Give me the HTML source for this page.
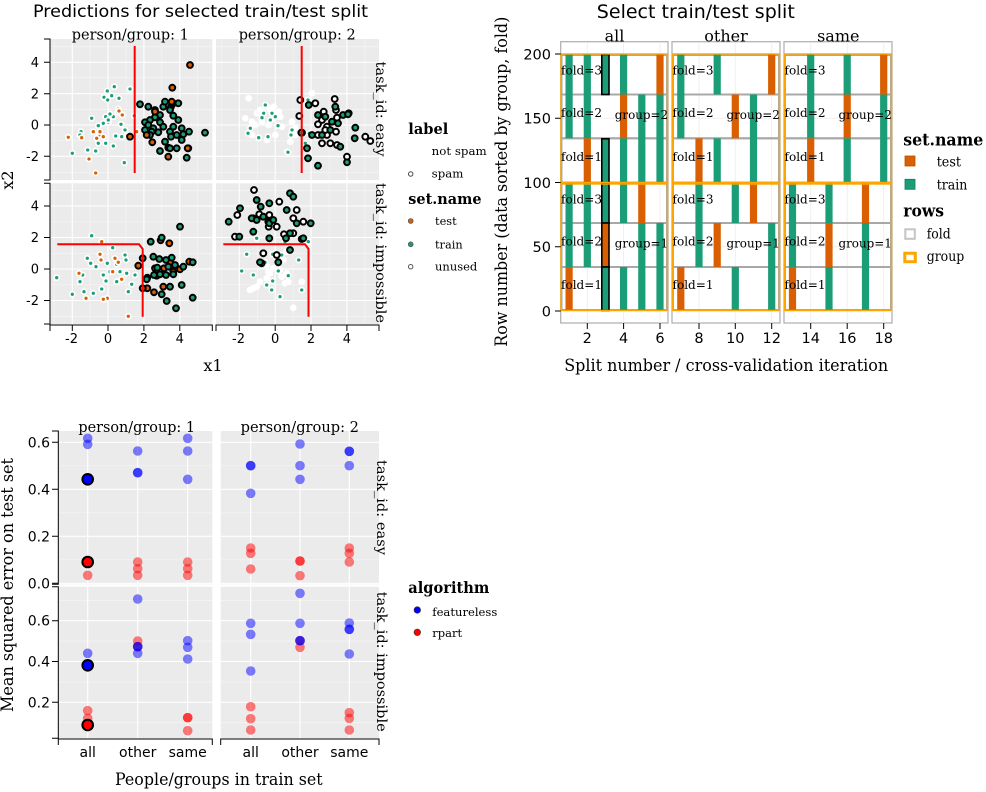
<!DOCTYPE html>
<html><head><meta charset="utf-8"><style>
body{margin:0;background:#fff}
svg{display:block}
.sans{font-family:"DejaVu Sans","Liberation Sans",sans-serif}
.serif{font-family:"DejaVu Serif","Liberation Serif",serif}
.gn{fill:#1b9e77;stroke:#fff;stroke-width:1.7}
.on{fill:#d95f02;stroke:#fff;stroke-width:1.7}
.wn{fill:#fff;stroke:#fff;stroke-width:1.7}
.gs{fill:#1b9e77;stroke:#000;stroke-width:2}
.os{fill:#d95f02;stroke:#000;stroke-width:2}
.ws{fill:#fff;stroke:#000;stroke-width:2}
.T{fill:#1b9e77}
.E{fill:#d95f02}
.H{stroke:#000;stroke-width:1.6}
.mj{stroke:#fff;stroke-width:1.1}
.mn{stroke:#f6f6f6;stroke-width:0.6}
.ax{stroke:#000;stroke-width:1;fill:none}
.bl{fill:rgba(0,0,255,0.5)}
.rd{fill:rgba(255,0,0,0.5)}
.tg{stroke:#efefef;stroke-width:1}
.fr{fill:none;stroke:#a8a8a8;stroke-width:2}
.gr{fill:none;stroke:#ffa500;stroke-width:1.4}
</style></head><body>
<svg width="986" height="792" viewBox="0 0 986 792" xmlns="http://www.w3.org/2000/svg">
<rect width="986" height="792" fill="#fff"/>

<!-- ================= SCATTER (top-left) ================= -->
<text class="sans" x="200.5" y="17" font-size="17" text-anchor="middle" textLength="335" lengthAdjust="spacingAndGlyphs">Predictions for selected train/test split</text>

<!-- panels -->
<rect x="50" y="39" width="162.3" height="141" fill="#ebebeb"/>
<rect x="216" y="39" width="163" height="141" fill="#ebebeb"/>
<rect x="50" y="183.3" width="162.3" height="140.7" fill="#ebebeb"/>
<rect x="216" y="183.3" width="163" height="140.7" fill="#ebebeb"/>
<g class="mn">
<path d="M54.2,39V180M90,39V180M126,39V180M161.8,39V180M197.7,39V180M221.4,39V180M257.3,39V180M293.1,39V180M329,39V180M364.8,39V180"/>
<path d="M54.2,183.3V324M90,183.3V324M126,183.3V324M161.8,183.3V324M197.7,183.3V324M221.4,183.3V324M257.3,183.3V324M293.1,183.3V324M329,183.3V324M364.8,183.3V324"/>
<path d="M50,46.3H212.3M50,77.7H212.3M50,109.3H212.3M50,140.8H212.3M50,172.3H212.3M216,46.3H379M216,77.7H379M216,109.3H379M216,140.8H379M216,172.3H379"/>
<path d="M50,190.3H212.3M50,221.8H212.3M50,253.3H212.3M50,284.8H212.3M50,316.3H212.3M216,190.3H379M216,221.8H379M216,253.3H379M216,284.8H379M216,316.3H379"/>
</g>
<g class="mj">
<path d="M72.3,39V180M108,39V180M143.9,39V180M179.8,39V180M239.3,39V180M275.2,39V180M311,39V180M346.9,39V180"/>
<path d="M72.3,183.3V324M108,183.3V324M143.9,183.3V324M179.8,183.3V324M239.3,183.3V324M275.2,183.3V324M311,183.3V324M346.9,183.3V324"/>
<path d="M50,62.3H212.3M50,93.7H212.3M50,125H212.3M50,156.3H212.3M216,62.3H379M216,93.7H379M216,125H379M216,156.3H379"/>
<path d="M50,206H212.3M50,237.5H212.3M50,269H212.3M50,300.5H212.3M216,206H379M216,237.5H379M216,269H379M216,300.5H379"/>
</g>

<!-- TL points: easy, group 1 -->
<g>
<circle class="gn" r="2.5" cx="114.3" cy="86.7"/><circle class="gn" r="2.5" cx="107.3" cy="91"/><circle class="gn" r="2.5" cx="111.7" cy="95.7"/><circle class="gn" r="2.5" cx="104" cy="97.3"/><circle class="gn" r="2.5" cx="119" cy="98.3"/><circle class="gn" r="2.5" cx="130" cy="89"/><circle class="gn" r="2.5" cx="107.7" cy="100"/><circle class="gn" r="2.5" cx="91.7" cy="118.3"/><circle class="gn" r="2.5" cx="105.7" cy="116.7"/><circle class="gn" r="2.5" cx="113.3" cy="116.7"/><circle class="gn" r="2.5" cx="110" cy="114"/><circle class="gn" r="2.5" cx="117.7" cy="112.3"/><circle class="gn" r="2.5" cx="108.3" cy="122.3"/><circle class="gn" r="2.5" cx="98.3" cy="125.7"/><circle class="gn" r="2.5" cx="103.3" cy="123.3"/><circle class="gn" r="2.5" cx="121" cy="124.3"/><circle class="gn" r="2.5" cx="81" cy="131.7"/><circle class="gn" r="2.5" cx="99.3" cy="135"/><circle class="gn" r="2.5" cx="115.7" cy="136"/><circle class="gn" r="2.5" cx="121.7" cy="136.7"/><circle class="gn" r="2.5" cx="125" cy="130"/><circle class="gn" r="2.5" cx="134.3" cy="115.7"/><circle class="gn" r="2.5" cx="98.3" cy="143.3"/><circle class="gn" r="2.5" cx="105.7" cy="143.3"/><circle class="gn" r="2.5" cx="113.3" cy="146"/><circle class="gn" r="2.5" cx="87.7" cy="150"/><circle class="gn" r="2.5" cx="95.7" cy="151"/><circle class="gn" r="2.5" cx="72.3" cy="153.3"/><circle class="gn" r="2.5" cx="124.3" cy="162.7"/><circle class="gn" r="2.5" cx="80" cy="135"/><circle class="gn" r="2.5" cx="108.3" cy="120"/><circle class="gn" r="2.5" cx="118.3" cy="109"/>
<circle class="on" r="2.5" cx="68.3" cy="137.3"/><circle class="on" r="2.5" cx="81.7" cy="137.7"/><circle class="on" r="2.5" cx="89" cy="159"/><circle class="on" r="2.5" cx="95.7" cy="173"/><circle class="on" r="2.5" cx="119" cy="111"/><circle class="on" r="2.5" cx="122.3" cy="115"/><circle class="on" r="2.5" cx="93.3" cy="131.7"/><circle class="on" r="2.5" cx="100" cy="135"/><circle class="on" r="2.5" cx="103.3" cy="136.7"/><circle class="on" r="2.5" cx="96.7" cy="138.3"/><circle class="on" r="2.5" cx="127.7" cy="135.7"/><circle class="on" r="2.5" cx="136.7" cy="131.7"/><circle class="on" r="2.5" cx="145" cy="124.3"/><circle class="on" r="2.5" cx="100" cy="131.7"/>
<circle class="gs" r="2.9" cx="140" cy="104.3"/><circle class="gs" r="2.9" cx="148.3" cy="106.7"/><circle class="gs" r="2.9" cx="155" cy="110"/><circle class="gs" r="2.9" cx="163.3" cy="106.7"/><circle class="gs" r="2.9" cx="165" cy="101.7"/><circle class="gs" r="2.9" cx="173.3" cy="103.3"/><circle class="gs" r="2.9" cx="178.3" cy="103.3"/><circle class="gs" r="2.9" cx="171" cy="106.7"/><circle class="gs" r="2.9" cx="170" cy="110"/><circle class="gs" r="2.9" cx="173.3" cy="115.7"/><circle class="gs" r="2.9" cx="160" cy="115"/><circle class="gs" r="2.9" cx="155" cy="117.3"/><circle class="gs" r="2.9" cx="150" cy="120"/><circle class="gs" r="2.9" cx="145" cy="122.3"/><circle class="gs" r="2.9" cx="148.3" cy="125"/><circle class="gs" r="2.9" cx="153.3" cy="128.3"/><circle class="gs" r="2.9" cx="160" cy="122.3"/><circle class="gs" r="2.9" cx="163.3" cy="126.7"/><circle class="gs" r="2.9" cx="173.3" cy="126.7"/><circle class="gs" r="2.9" cx="181.7" cy="128.3"/><circle class="gs" r="2.9" cx="183.3" cy="134.3"/><circle class="gs" r="2.9" cx="189" cy="131.7"/><circle class="gs" r="2.9" cx="205" cy="132.7"/><circle class="gs" r="2.9" cx="151.7" cy="131.7"/><circle class="gs" r="2.9" cx="158.3" cy="132.3"/><circle class="gs" r="2.9" cx="170" cy="131.7"/><circle class="gs" r="2.9" cx="171" cy="136.7"/><circle class="gs" r="2.9" cx="181.7" cy="140"/><circle class="gs" r="2.9" cx="176.7" cy="148.3"/><circle class="gs" r="2.9" cx="168.3" cy="147.7"/><circle class="gs" r="2.9" cx="160" cy="151"/><circle class="gs" r="2.9" cx="186.7" cy="157.7"/><circle class="gs" r="2.9" cx="165" cy="141.7"/><circle class="gs" r="2.9" cx="145" cy="130"/><circle class="gs" r="2.9" cx="150" cy="135"/><circle class="gs" r="2.9" cx="176.7" cy="135"/><circle class="gs" r="2.9" cx="178.3" cy="120"/><circle class="gs" r="2.9" cx="188.3" cy="148.3"/><circle class="gs" r="2.9" cx="170" cy="148.3"/>
<circle class="os" r="2.9" cx="190" cy="65"/><circle class="os" r="2.9" cx="172.3" cy="87.7"/><circle class="os" r="2.9" cx="172.3" cy="103.3"/><circle class="os" r="2.9" cx="155" cy="111.7"/><circle class="os" r="2.9" cx="130" cy="136.7"/><circle class="os" r="2.9" cx="146.7" cy="135"/><circle class="os" r="2.9" cx="152.3" cy="142.3"/><circle class="os" r="2.9" cx="187.7" cy="148.3"/><circle class="os" r="2.9" cx="168.3" cy="156.7"/><circle class="os" r="2.9" cx="171.7" cy="101.7"/>
</g>

<!-- TR points: easy, group 2 -->
<g>
<circle class="wn" r="2.5" cx="248.7" cy="98.3"/><circle class="wn" r="2.5" cx="257" cy="113.3"/><circle class="wn" r="2.5" cx="245.3" cy="118.3"/><circle class="wn" r="2.5" cx="267" cy="106.7"/><circle class="wn" r="2.5" cx="273.7" cy="106.7"/><circle class="wn" r="2.5" cx="278.7" cy="111.7"/><circle class="wn" r="2.5" cx="270.3" cy="110"/><circle class="wn" r="2.5" cx="262" cy="121.7"/><circle class="wn" r="2.5" cx="268.7" cy="125"/><circle class="wn" r="2.5" cx="282" cy="126.7"/><circle class="wn" r="2.5" cx="252" cy="135"/><circle class="wn" r="2.5" cx="258.7" cy="138.3"/><circle class="wn" r="2.5" cx="267" cy="140"/><circle class="wn" r="2.5" cx="275.3" cy="135"/><circle class="wn" r="2.5" cx="287" cy="151.7"/><circle class="wn" r="2.5" cx="292" cy="121.7"/><circle class="wn" r="2.5" cx="295.3" cy="135"/><circle class="wn" r="2.5" cx="290.3" cy="141.7"/><circle class="wn" r="2.5" cx="312" cy="93.3"/><circle class="wn" r="2.5" cx="305.3" cy="105"/><circle class="wn" r="2.5" cx="255.3" cy="125"/><circle class="wn" r="2.5" cx="280.3" cy="116.7"/><circle class="wn" r="2.5" cx="273.7" cy="118.3"/><circle class="wn" r="2.5" cx="260.3" cy="110"/><circle class="wn" r="2.5" cx="295.3" cy="128.3"/><circle class="wn" r="2.5" cx="252" cy="121.7"/>
<circle class="gn" r="2.5" cx="265.3" cy="105"/><circle class="gn" r="2.5" cx="263.7" cy="113.3"/><circle class="gn" r="2.5" cx="262" cy="117.7"/><circle class="gn" r="2.5" cx="275.3" cy="116.7"/><circle class="gn" r="2.5" cx="270.3" cy="120"/><circle class="gn" r="2.5" cx="250.3" cy="128.3"/><circle class="gn" r="2.5" cx="248" cy="133.3"/><circle class="gn" r="2.5" cx="258.7" cy="137.7"/><circle class="gn" r="2.5" cx="268" cy="136.7"/><circle class="gn" r="2.5" cx="278" cy="125.7"/><circle class="gn" r="2.5" cx="292" cy="130"/><circle class="gn" r="2.5" cx="291" cy="135"/><circle class="gn" r="2.5" cx="288" cy="152.3"/><circle class="gn" r="2.5" cx="308" cy="100"/><circle class="gn" r="2.5" cx="309.3" cy="133.3"/><circle class="gn" r="2.5" cx="305.3" cy="143.3"/><circle class="gn" r="2.5" cx="272" cy="113.3"/>
<circle class="ws" r="2.9" cx="315.3" cy="103.3"/><circle class="ws" r="2.9" cx="323.7" cy="111.7"/><circle class="ws" r="2.9" cx="336" cy="110"/><circle class="ws" r="2.9" cx="337" cy="117.7"/><circle class="ws" r="2.9" cx="322" cy="120"/><circle class="ws" r="2.9" cx="318" cy="124.3"/><circle class="ws" r="2.9" cx="327" cy="126.7"/><circle class="ws" r="2.9" cx="336" cy="131.7"/><circle class="ws" r="2.9" cx="327" cy="135"/><circle class="ws" r="2.9" cx="318" cy="135"/><circle class="ws" r="2.9" cx="322" cy="143.3"/><circle class="ws" r="2.9" cx="330.3" cy="143.3"/><circle class="ws" r="2.9" cx="337" cy="145"/><circle class="ws" r="2.9" cx="348.7" cy="113.3"/><circle class="ws" r="2.9" cx="365.3" cy="136.7"/><circle class="ws" r="2.9" cx="370.3" cy="141"/><circle class="ws" r="2.9" cx="334.7" cy="99"/><circle class="ws" r="2.9" cx="300.3" cy="100"/><circle class="ws" r="2.9" cx="299.3" cy="116"/><circle class="ws" r="2.9" cx="302" cy="132.7"/><circle class="ws" r="2.9" cx="347" cy="156.7"/><circle class="ws" r="2.9" cx="325.3" cy="130"/>
<circle class="gs" r="2.9" cx="308.7" cy="105"/><circle class="gs" r="2.9" cx="318" cy="115"/><circle class="gs" r="2.9" cx="325.3" cy="116.7"/><circle class="gs" r="2.9" cx="332" cy="121.7"/><circle class="gs" r="2.9" cx="338" cy="123.3"/><circle class="gs" r="2.9" cx="343" cy="115"/><circle class="gs" r="2.9" cx="355.3" cy="127.7"/><circle class="gs" r="2.9" cx="354.7" cy="138.3"/><circle class="gs" r="2.9" cx="340.3" cy="146.7"/><circle class="gs" r="2.9" cx="330.3" cy="130"/><circle class="gs" r="2.9" cx="312" cy="135"/><circle class="gs" r="2.9" cx="307" cy="148.3"/><circle class="gs" r="2.9" cx="308" cy="158.3"/><circle class="gs" r="2.9" cx="318" cy="165.7"/><circle class="gs" r="2.9" cx="347" cy="162.3"/><circle class="gs" r="2.9" cx="335.3" cy="106.7"/><circle class="gs" r="2.9" cx="301.3" cy="132.7"/><circle class="gs" r="2.9" cx="322" cy="135"/><circle class="gs" r="2.9" cx="348" cy="114.3"/>
</g>

<!-- BL points: impossible, group 1 -->
<g>
<circle class="gn" r="2.5" cx="91.7" cy="235.7"/><circle class="gn" r="2.5" cx="56.7" cy="277.7"/><circle class="gn" r="2.5" cx="72.3" cy="294.3"/><circle class="gn" r="2.5" cx="80" cy="281.7"/><circle class="gn" r="2.5" cx="84" cy="291.7"/><circle class="gn" r="2.5" cx="87.3" cy="258.3"/><circle class="gn" r="2.5" cx="96" cy="266.7"/><circle class="gn" r="2.5" cx="112.7" cy="247.7"/><circle class="gn" r="2.5" cx="116.7" cy="264.3"/><circle class="gn" r="2.5" cx="125" cy="255"/><circle class="gn" r="2.5" cx="126" cy="260"/><circle class="gn" r="2.5" cx="126.7" cy="273.3"/><circle class="gn" r="2.5" cx="128.3" cy="291.7"/><circle class="gn" r="2.5" cx="106" cy="281"/><circle class="gn" r="2.5" cx="101.7" cy="289"/><circle class="gn" r="2.5" cx="90.7" cy="263.3"/><circle class="gn" r="2.5" cx="107.3" cy="263.3"/><circle class="gn" r="2.5" cx="110" cy="271.7"/><circle class="gn" r="2.5" cx="131.7" cy="284.3"/><circle class="gn" r="2.5" cx="135" cy="275"/><circle class="gn" r="2.5" cx="120" cy="271.7"/><circle class="gn" r="2.5" cx="116.7" cy="281.7"/><circle class="gn" r="2.5" cx="82.7" cy="275"/><circle class="gn" r="2.5" cx="103.3" cy="275"/><circle class="gn" r="2.5" cx="93.3" cy="293.3"/>
<circle class="on" r="2.5" cx="101.7" cy="241.7"/><circle class="on" r="2.5" cx="79" cy="273.3"/><circle class="on" r="2.5" cx="86" cy="298.3"/><circle class="on" r="2.5" cx="100" cy="254.3"/><circle class="on" r="2.5" cx="101" cy="260"/><circle class="on" r="2.5" cx="112.7" cy="271.7"/><circle class="on" r="2.5" cx="107.3" cy="298.3"/><circle class="on" r="2.5" cx="103.3" cy="299.3"/><circle class="on" r="2.5" cx="128.3" cy="316.3"/><circle class="on" r="2.5" cx="118.3" cy="262.3"/><circle class="on" r="2.5" cx="121.7" cy="279.3"/><circle class="on" r="2.5" cx="115" cy="258.3"/>
<circle class="os" r="2.9" cx="138.3" cy="265.7"/><circle class="os" r="2.9" cx="160.7" cy="240.3"/><circle class="os" r="2.9" cx="169.3" cy="243.3"/><circle class="os" r="2.9" cx="147.3" cy="288.3"/><circle class="os" r="2.9" cx="156.7" cy="275.7"/><circle class="os" r="2.9" cx="155" cy="268.3"/><circle class="os" r="2.9" cx="164" cy="268.3"/><circle class="os" r="2.9" cx="170" cy="262.3"/><circle class="os" r="2.9" cx="180" cy="269.3"/><circle class="os" r="2.9" cx="189.3" cy="261.7"/><circle class="os" r="2.9" cx="163.3" cy="286.7"/><circle class="os" r="2.9" cx="154" cy="292.3"/><circle class="os" r="2.9" cx="173.3" cy="271.7"/><circle class="os" r="2.9" cx="142.7" cy="288.3"/>
<circle class="gs" r="2.9" cx="150.7" cy="241.7"/><circle class="gs" r="2.9" cx="161.7" cy="237.7"/><circle class="gs" r="2.9" cx="180" cy="226.7"/><circle class="gs" r="2.9" cx="142.7" cy="258.3"/><circle class="gs" r="2.9" cx="153.3" cy="256.7"/><circle class="gs" r="2.9" cx="159.3" cy="259"/><circle class="gs" r="2.9" cx="166" cy="260"/><circle class="gs" r="2.9" cx="171.7" cy="257.7"/><circle class="gs" r="2.9" cx="157.3" cy="267.7"/><circle class="gs" r="2.9" cx="168.3" cy="266.7"/><circle class="gs" r="2.9" cx="175" cy="265"/><circle class="gs" r="2.9" cx="183.3" cy="266.7"/><circle class="gs" r="2.9" cx="192.7" cy="262.3"/><circle class="gs" r="2.9" cx="147.3" cy="277.7"/><circle class="gs" r="2.9" cx="154" cy="275"/><circle class="gs" r="2.9" cx="160" cy="274.3"/><circle class="gs" r="2.9" cx="166" cy="275"/><circle class="gs" r="2.9" cx="173.3" cy="274.3"/><circle class="gs" r="2.9" cx="181.7" cy="285"/><circle class="gs" r="2.9" cx="170" cy="286.7"/><circle class="gs" r="2.9" cx="161.7" cy="294.3"/><circle class="gs" r="2.9" cx="166.7" cy="301"/><circle class="gs" r="2.9" cx="176" cy="308.3"/><circle class="gs" r="2.9" cx="192.7" cy="297.7"/><circle class="gs" r="2.9" cx="146.7" cy="279.3"/>
</g>

<!-- BR points: impossible, group 2 -->
<g>
<circle class="wn" r="2.5" cx="266.7" cy="265"/><circle class="wn" r="2.5" cx="268.3" cy="271.7"/><circle class="wn" r="2.5" cx="273.3" cy="268.3"/><circle class="wn" r="2.5" cx="280" cy="270"/><circle class="wn" r="2.5" cx="286.7" cy="273.3"/><circle class="wn" r="2.5" cx="285" cy="283.3"/><circle class="wn" r="2.5" cx="250" cy="290"/><circle class="wn" r="2.5" cx="256.7" cy="286.7"/><circle class="wn" r="2.5" cx="260" cy="281.7"/><circle class="wn" r="2.5" cx="281.7" cy="276.7"/><circle class="wn" r="2.5" cx="293.3" cy="307.7"/><circle class="wn" r="2.5" cx="301.7" cy="281.7"/><circle class="wn" r="2.5" cx="276.7" cy="258.3"/><circle class="wn" r="2.5" cx="283.3" cy="260"/><circle class="wn" r="2.5" cx="286.7" cy="251.7"/><circle class="wn" r="2.5" cx="266.7" cy="278.3"/><circle class="wn" r="2.5" cx="253.3" cy="288.3"/><circle class="wn" r="2.5" cx="288.3" cy="281.7"/><circle class="wn" r="2.5" cx="270" cy="273.3"/>
<circle class="gn" r="2.5" cx="256.7" cy="238.3"/><circle class="gn" r="2.5" cx="246.7" cy="254.3"/><circle class="gn" r="2.5" cx="241.7" cy="271"/><circle class="gn" r="2.5" cx="272.7" cy="254.3"/><circle class="gn" r="2.5" cx="281.7" cy="255"/><circle class="gn" r="2.5" cx="290.7" cy="251"/><circle class="gn" r="2.5" cx="298.7" cy="260"/><circle class="gn" r="2.5" cx="285" cy="241.7"/><circle class="gn" r="2.5" cx="272.7" cy="281"/><circle class="gn" r="2.5" cx="288.3" cy="275.7"/><circle class="gn" r="2.5" cx="280" cy="296.7"/><circle class="gn" r="2.5" cx="271.7" cy="290"/><circle class="gn" r="2.5" cx="301.7" cy="290"/><circle class="gn" r="2.5" cx="308.3" cy="241.7"/><circle class="gn" r="2.5" cx="265" cy="262.3"/><circle class="gn" r="2.5" cx="266.7" cy="285"/><circle class="gn" r="2.5" cx="278.3" cy="271"/><circle class="gn" r="2.5" cx="253.3" cy="275"/>
<circle class="ws" r="2.9" cx="254" cy="190"/><circle class="ws" r="2.9" cx="237.3" cy="215"/><circle class="ws" r="2.9" cx="259.3" cy="214.3"/><circle class="ws" r="2.9" cx="279.3" cy="201.7"/><circle class="ws" r="2.9" cx="296.7" cy="210"/><circle class="ws" r="2.9" cx="269.3" cy="215"/><circle class="ws" r="2.9" cx="276.7" cy="226.7"/><circle class="ws" r="2.9" cx="268.7" cy="226.7"/><circle class="ws" r="2.9" cx="235" cy="236.7"/><circle class="ws" r="2.9" cx="284" cy="234.3"/><circle class="ws" r="2.9" cx="293.3" cy="233.3"/><circle class="ws" r="2.9" cx="303.3" cy="221.7"/><circle class="ws" r="2.9" cx="301.7" cy="239"/><circle class="ws" r="2.9" cx="293.3" cy="218.3"/><circle class="ws" r="2.9" cx="263.3" cy="253.3"/><circle class="ws" r="2.9" cx="261.7" cy="263.3"/><circle class="ws" r="2.9" cx="276.7" cy="255"/><circle class="ws" r="2.9" cx="253.3" cy="218.3"/><circle class="ws" r="2.9" cx="268.3" cy="221.7"/>
<circle class="gs" r="2.9" cx="228.7" cy="221.7"/><circle class="gs" r="2.9" cx="240" cy="208.3"/><circle class="gs" r="2.9" cx="256.7" cy="200"/><circle class="gs" r="2.9" cx="260.7" cy="206.7"/><circle class="gs" r="2.9" cx="269.3" cy="203.3"/><circle class="gs" r="2.9" cx="286.7" cy="210"/><circle class="gs" r="2.9" cx="290" cy="193.3"/><circle class="gs" r="2.9" cx="293.3" cy="196.7"/><circle class="gs" r="2.9" cx="251.7" cy="218.3"/><circle class="gs" r="2.9" cx="256.7" cy="220"/><circle class="gs" r="2.9" cx="263.3" cy="216.7"/><circle class="gs" r="2.9" cx="269.3" cy="223.3"/><circle class="gs" r="2.9" cx="273.3" cy="220"/><circle class="gs" r="2.9" cx="296.7" cy="223.3"/><circle class="gs" r="2.9" cx="310.7" cy="223.3"/><circle class="gs" r="2.9" cx="239.3" cy="236.7"/><circle class="gs" r="2.9" cx="269.3" cy="238.3"/><circle class="gs" r="2.9" cx="286" cy="238.3"/><circle class="gs" r="2.9" cx="290" cy="233.3"/><circle class="gs" r="2.9" cx="253.3" cy="231.7"/><circle class="gs" r="2.9" cx="290" cy="250"/><circle class="gs" r="2.9" cx="260" cy="262.3"/><circle class="gs" r="2.9" cx="278.3" cy="262.3"/><circle class="gs" r="2.9" cx="303.3" cy="238.3"/>
</g>

<!-- red decision lines -->
<g stroke="#ff0000" stroke-width="2" fill="none">
<path d="M134.7,46V173"/>
<path d="M301.7,46V173"/>
<path d="M57.3,244.3H139L142.7,249V316.7"/>
<path d="M223.3,244.3H305L308.5,249V316.7"/>
</g>

<!-- strip labels (drawn over panels) -->
<text class="serif" x="130.3" y="39.5" font-size="14.5" text-anchor="middle" textLength="117" lengthAdjust="spacingAndGlyphs">person/group: 1</text>
<text class="serif" x="297.2" y="39.5" font-size="14.5" text-anchor="middle" textLength="117" lengthAdjust="spacingAndGlyphs">person/group: 2</text>
<text class="serif" font-size="14" transform="translate(376,109) rotate(90)" text-anchor="middle" textLength="95" lengthAdjust="spacingAndGlyphs">task_id: easy</text>
<text class="serif" font-size="14" transform="translate(376,253) rotate(90)" text-anchor="middle" textLength="140" lengthAdjust="spacingAndGlyphs">task_id: impossible</text>

<!-- axes -->
<path class="ax" d="M44,39H50V180H44M44,183.3H50V324H44"/>
<path class="ax" d="M44,62.3H50M44,93.7H50M44,125H50M44,156.3H50M44,206H50M44,237.5H50M44,269H50M44,300.5H50"/>
<path class="ax" d="M50,331V325H212.3V331M216,331V325H379V331"/>
<path class="ax" d="M72.3,325V331M108,325V331M143.9,325V331M179.8,325V331M239.3,325V331M275.2,325V331M311,325V331M346.9,325V331"/>
<g class="sans" font-size="13" text-anchor="end">
<text x="39" y="67">4</text><text x="39" y="98.3">2</text><text x="39" y="129.6">0</text><text x="39" y="161">-2</text>
<text x="39" y="210.6">4</text><text x="39" y="242">2</text><text x="39" y="273.6">0</text><text x="39" y="305">-2</text>
</g>
<g class="sans" font-size="13" text-anchor="middle">
<text x="71.5" y="343">-2</text><text x="108" y="343">0</text><text x="143.9" y="343">2</text><text x="179.8" y="343">4</text>
<text x="238.5" y="343">-2</text><text x="275.2" y="343">0</text><text x="311" y="343">2</text><text x="346.9" y="343">4</text>
</g>
<text class="serif" x="213" y="371" font-size="16" text-anchor="middle">x1</text>
<text class="serif" font-size="16" transform="translate(13,180) rotate(-90)" text-anchor="middle">x2</text>

<!-- scatter legend -->
<text class="serif" x="408.3" y="134" font-size="15" font-weight="bold" textLength="40" lengthAdjust="spacingAndGlyphs">label</text>
<text class="serif" x="431.7" y="155" font-size="11.5" textLength="55" lengthAdjust="spacingAndGlyphs">not spam</text>
<circle cx="410.7" cy="174" r="2.2" fill="#fff" stroke="#444" stroke-width="1"/>
<text class="serif" x="431.7" y="177.5" font-size="11.5" textLength="31.7" lengthAdjust="spacingAndGlyphs">spam</text>
<text class="serif" x="408.3" y="204" font-size="15" font-weight="bold" textLength="73.3" lengthAdjust="spacingAndGlyphs">set.name</text>
<circle cx="410.7" cy="221" r="2.4" fill="#d95f02" stroke="#555" stroke-width="0.8"/>
<text class="serif" x="435" y="225" font-size="11.5" textLength="21.7" lengthAdjust="spacingAndGlyphs">test</text>
<circle cx="410.7" cy="244.3" r="2.4" fill="#1b9e77" stroke="#555" stroke-width="0.8"/>
<text class="serif" x="435" y="248.3" font-size="11.5" textLength="27.7" lengthAdjust="spacingAndGlyphs">train</text>
<circle cx="410.7" cy="266.7" r="2.2" fill="#fff" stroke="#555" stroke-width="1"/>
<text class="serif" x="435" y="270.7" font-size="11.5" textLength="42.3" lengthAdjust="spacingAndGlyphs">unused</text>

<!-- ================= TILE CHART (top-right) ================= -->
<text class="sans" x="695.8" y="18" font-size="19" text-anchor="middle" textLength="198" lengthAdjust="spacingAndGlyphs">Select train/test split</text>

<!-- panel backgrounds -->
<rect x="560.7" y="41.7" width="107.3" height="281.3" fill="#fff" stroke="#b3b3b3" stroke-width="1.3"/>
<rect x="672" y="41.7" width="108" height="281.3" fill="#fff" stroke="#b3b3b3" stroke-width="1.3"/>
<rect x="784" y="41.7" width="108" height="281.3" fill="#fff" stroke="#b3b3b3" stroke-width="1.3"/>
<text class="serif" x="614.5" y="41.5" font-size="16" text-anchor="middle">all</text>
<text class="serif" x="726" y="41.5" font-size="16" text-anchor="middle">other</text>
<text class="serif" x="838.3" y="41.5" font-size="16" text-anchor="middle">same</text>
<g class="tg">
<path d="M587.3,42V323M623.6,42V323M660,42V323M699,42V323M735.3,42V323M771.7,42V323M810.7,42V323M847.2,42V323M883.7,42V323"/>
<path d="M561,311H668M561,246.75H668M561,182.5H668M561,118.25H668M561,54H668M672,311H780M672,246.75H780M672,182.5H780M672,118.25H780M672,54H780M784,311H892M784,246.75H892M784,182.5H892M784,118.25H892M784,54H892"/>
</g>

<!-- fold rects -->
<g class="fr">
<rect x="561.5" y="55" width="105.5" height="39.5"/><rect x="561.5" y="94.5" width="105.5" height="43.8"/><rect x="561.5" y="138.3" width="105.5" height="44.2"/>
<rect x="561.5" y="183.5" width="105.5" height="39.5"/><rect x="561.5" y="223" width="105.5" height="44"/><rect x="561.5" y="267" width="105.5" height="43"/>
<rect x="673" y="55" width="106" height="39.5"/><rect x="673" y="94.5" width="106" height="43.8"/><rect x="673" y="138.3" width="106" height="44.2"/>
<rect x="673" y="183.5" width="106" height="39.5"/><rect x="673" y="223" width="106" height="44"/><rect x="673" y="267" width="106" height="43"/>
<rect x="785" y="55" width="106" height="39.5"/><rect x="785" y="94.5" width="106" height="43.8"/><rect x="785" y="138.3" width="106" height="44.2"/>
<rect x="785" y="183.5" width="106" height="39.5"/><rect x="785" y="223" width="106" height="44"/><rect x="785" y="267" width="106" height="43"/>
</g>

<!-- bars -->
<g>
<rect class="T" x="565.5" y="54" width="7.2" height="84.3"/><rect class="T" x="565.5" y="183" width="7.2" height="84"/><rect class="E" x="565.5" y="267" width="7.2" height="43.5"/>
<rect class="T" x="583.7" y="54" width="7.2" height="84.3"/><rect class="E" x="583.7" y="138.3" width="7.2" height="44.7"/><rect class="T" x="583.7" y="183" width="7.2" height="84"/>
<rect class="T" x="620" y="54" width="7.2" height="40.5"/><rect class="E" x="620" y="94.5" width="7.2" height="43.8"/><rect class="T" x="620" y="138.3" width="7.2" height="84.7"/><rect class="T" x="620" y="267" width="7.2" height="43.5"/>
<rect class="T" x="638.2" y="94.5" width="7.2" height="88.5"/><rect class="E" x="638.2" y="183" width="7.2" height="40"/><rect class="T" x="638.2" y="223" width="7.2" height="87.5"/>
<rect class="E" x="656.4" y="54" width="7.2" height="40.5"/><rect class="T" x="656.4" y="94.5" width="7.2" height="88.5"/><rect class="T" x="656.4" y="223" width="7.2" height="87.5"/>
<rect class="T" x="677.2" y="54" width="7.2" height="84.3"/><rect class="E" x="677.2" y="267" width="7.2" height="43.5"/>
<rect class="E" x="695.4" y="138.3" width="7.2" height="44.7"/><rect class="T" x="695.4" y="183" width="7.2" height="84"/>
<rect class="T" x="713.6" y="54" width="7.2" height="40.5"/><rect class="T" x="713.6" y="138.3" width="7.2" height="44.7"/><rect class="E" x="713.6" y="223" width="7.2" height="44"/>
<rect class="E" x="731.7" y="94.5" width="7.2" height="43.8"/><rect class="T" x="731.7" y="183" width="7.2" height="40"/><rect class="T" x="731.7" y="267" width="7.2" height="43.5"/>
<rect class="T" x="749.9" y="94.5" width="7.2" height="88.5"/><rect class="E" x="749.9" y="183" width="7.2" height="40"/>
<rect class="E" x="768.1" y="54" width="7.2" height="40.5"/><rect class="T" x="768.1" y="223" width="7.2" height="87.5"/>
<rect class="T" x="788.9" y="183" width="7.2" height="84"/><rect class="E" x="788.9" y="267" width="7.2" height="43.5"/>
<rect class="T" x="807.1" y="54" width="7.2" height="84.3"/><rect class="E" x="807.1" y="138.3" width="7.2" height="44.7"/>
<rect class="T" x="825.4" y="183" width="7.2" height="40"/><rect class="E" x="825.4" y="223" width="7.2" height="44"/><rect class="T" x="825.4" y="267" width="7.2" height="43.5"/>
<rect class="T" x="843.6" y="54" width="7.2" height="40.5"/><rect class="E" x="843.6" y="94.5" width="7.2" height="43.8"/><rect class="T" x="843.6" y="138.3" width="7.2" height="44.7"/>
<rect class="E" x="861.9" y="183" width="7.2" height="40"/><rect class="T" x="861.9" y="223" width="7.2" height="87.5"/>
<rect class="E" x="880.1" y="54" width="7.2" height="40.5"/><rect class="T" x="880.1" y="94.5" width="7.2" height="88.5"/>
<rect class="T H" x="601.8" y="54.5" width="7.2" height="40"/><rect class="T H" x="601.8" y="138.8" width="7.2" height="44"/><rect class="T H" x="601.8" y="183.5" width="7.2" height="39.5"/><rect class="E H" x="601.8" y="223" width="7.2" height="44"/><rect class="T H" x="601.8" y="267" width="7.2" height="43.5"/>
</g>

<!-- group rects -->
<g class="gr">
<rect x="561" y="54" width="106.5" height="128.5"/><rect x="561" y="184" width="106.5" height="126.5"/>
<rect x="672.5" y="54" width="107" height="128.5"/><rect x="672.5" y="184" width="107" height="126.5"/>
<rect x="784.5" y="54" width="107" height="128.5"/><rect x="784.5" y="184" width="107" height="126.5"/>
</g>

<!-- fold / group labels -->
<g class="serif" font-size="12.5">
<text x="561" y="74.5" textLength="41" lengthAdjust="spacingAndGlyphs">fold=3</text>
<text x="561" y="117" textLength="41" lengthAdjust="spacingAndGlyphs">fold=2</text>
<text x="561" y="161" textLength="41" lengthAdjust="spacingAndGlyphs">fold=1</text>
<text x="561" y="203.5" textLength="41" lengthAdjust="spacingAndGlyphs">fold=3</text>
<text x="561" y="245.5" textLength="41" lengthAdjust="spacingAndGlyphs">fold=2</text>
<text x="561" y="289" textLength="41" lengthAdjust="spacingAndGlyphs">fold=1</text>
<text x="672.5" y="74.5" textLength="41" lengthAdjust="spacingAndGlyphs">fold=3</text>
<text x="672.5" y="117" textLength="41" lengthAdjust="spacingAndGlyphs">fold=2</text>
<text x="672.5" y="161" textLength="41" lengthAdjust="spacingAndGlyphs">fold=1</text>
<text x="672.5" y="203.5" textLength="41" lengthAdjust="spacingAndGlyphs">fold=3</text>
<text x="672.5" y="245.5" textLength="41" lengthAdjust="spacingAndGlyphs">fold=2</text>
<text x="672.5" y="289" textLength="41" lengthAdjust="spacingAndGlyphs">fold=1</text>
<text x="784.5" y="74.5" textLength="41" lengthAdjust="spacingAndGlyphs">fold=3</text>
<text x="784.5" y="117" textLength="41" lengthAdjust="spacingAndGlyphs">fold=2</text>
<text x="784.5" y="161" textLength="41" lengthAdjust="spacingAndGlyphs">fold=1</text>
<text x="784.5" y="203.5" textLength="41" lengthAdjust="spacingAndGlyphs">fold=3</text>
<text x="784.5" y="245.5" textLength="41" lengthAdjust="spacingAndGlyphs">fold=2</text>
<text x="784.5" y="289" textLength="41" lengthAdjust="spacingAndGlyphs">fold=1</text>
<text x="614.8" y="119" textLength="53.3" lengthAdjust="spacingAndGlyphs">group=2</text>
<text x="614.8" y="247.5" textLength="53.3" lengthAdjust="spacingAndGlyphs">group=1</text>
<text x="726.5" y="119" textLength="53.3" lengthAdjust="spacingAndGlyphs">group=2</text>
<text x="726.5" y="247.5" textLength="53.3" lengthAdjust="spacingAndGlyphs">group=1</text>
<text x="838.5" y="119" textLength="53.3" lengthAdjust="spacingAndGlyphs">group=2</text>
<text x="838.5" y="247.5" textLength="53.3" lengthAdjust="spacingAndGlyphs">group=1</text>
</g>

<!-- tile axes -->
<path class="ax" d="M555,54H560.7M555,118.25H560.7M555,182.5H560.7M555,246.75H560.7M555,311H560.7"/>
<path class="ax" d="M587.3,323V329M623.6,323V329M660,323V329M699,323V329M735.3,323V329M771.7,323V329M810.7,323V329M847.2,323V329M883.7,323V329"/>
<g class="sans" font-size="14.5" text-anchor="end">
<text x="551" y="59.5">200</text><text x="551" y="123.7">150</text><text x="551" y="188">100</text><text x="551" y="252.2">50</text><text x="551" y="316.5">0</text>
</g>
<g class="sans" font-size="14.5" text-anchor="middle">
<text x="587.3" y="343">2</text><text x="623.6" y="343">4</text><text x="660" y="343">6</text>
<text x="699" y="343">8</text><text x="735.3" y="343">10</text><text x="771.7" y="343">12</text>
<text x="810.7" y="343">14</text><text x="847.2" y="343">16</text><text x="883.7" y="343">18</text>
</g>
<text class="serif" font-size="16.5" x="726.2" y="371" text-anchor="middle" textLength="324" lengthAdjust="spacingAndGlyphs">Split number / cross-validation iteration</text>
<text class="serif" font-size="16.5" transform="translate(507,181.7) rotate(-90)" text-anchor="middle" textLength="330" lengthAdjust="spacingAndGlyphs">Row number (data sorted by group, fold)</text>

<!-- tile legend -->
<text class="serif" x="903.3" y="145.5" font-size="17" font-weight="bold" textLength="80" lengthAdjust="spacingAndGlyphs">set.name</text>
<rect x="905" y="156" width="10" height="10" fill="#d95f02" stroke="#b85000" stroke-width="0.8"/>
<text class="serif" x="936.7" y="166.5" font-size="14" textLength="24.3" lengthAdjust="spacingAndGlyphs">test</text>
<rect x="905" y="179.3" width="10" height="10" fill="#1b9e77" stroke="#137a5c" stroke-width="0.8"/>
<text class="serif" x="936.7" y="189.5" font-size="14" textLength="30.6" lengthAdjust="spacingAndGlyphs">train</text>
<text class="serif" x="903.3" y="216.5" font-size="17" font-weight="bold" textLength="40.7" lengthAdjust="spacingAndGlyphs">rows</text>
<rect x="905.3" y="229.3" width="9.5" height="9.5" fill="#fff" stroke="#c4c4c4" stroke-width="2"/>
<text class="serif" x="926.7" y="238.5" font-size="14" textLength="24" lengthAdjust="spacingAndGlyphs">fold</text>
<rect x="904.8" y="253.2" width="10.5" height="8.5" fill="#fff" stroke="#ffa500" stroke-width="3"/>
<text class="serif" x="926.7" y="261" font-size="14" textLength="37.6" lengthAdjust="spacingAndGlyphs">group</text>

<!-- ================= ERROR PLOT (bottom-left) ================= -->
<rect x="58.3" y="431" width="154" height="153.3" fill="#ebebeb"/>
<rect x="220.7" y="431" width="158.3" height="153.3" fill="#ebebeb"/>
<rect x="58.3" y="586.7" width="154" height="151.6" fill="#ebebeb"/>
<rect x="220.7" y="586.7" width="158.3" height="151.6" fill="#ebebeb"/>
<g class="mn">
<path d="M58.3,559.8H212.3M58.3,512.8H212.3M58.3,465.8H212.3M220.7,559.8H379M220.7,512.8H379M220.7,465.8H379"/>
<path d="M58.3,722.7H212.3M58.3,681.9H212.3M58.3,641.1H212.3M58.3,600.3H212.3M220.7,722.7H379M220.7,681.9H379M220.7,641.1H379M220.7,600.3H379"/>
</g>
<g class="mj">
<path d="M58.3,583.3H212.3M58.3,536.3H212.3M58.3,489.3H212.3M58.3,442.3H212.3M220.7,583.3H379M220.7,536.3H379M220.7,489.3H379M220.7,442.3H379"/>
<path d="M58.3,702.3H212.3M58.3,661.5H212.3M58.3,620.7H212.3M220.7,702.3H379M220.7,661.5H379M220.7,620.7H379"/>
<path d="M87.7,431V584.3M137.7,431V584.3M187.7,431V584.3M250.7,431V584.3M300,431V584.3M349.3,431V584.3"/>
<path d="M87.7,586.7V738.3M137.7,586.7V738.3M187.7,586.7V738.3M250.7,586.7V738.3M300,586.7V738.3M349.3,586.7V738.3"/>
</g>

<!-- error points -->
<g>
<circle class="bl" r="4.8" cx="87.7" cy="438.3"/><circle class="bl" r="4.8" cx="87.7" cy="444.3"/>
<circle class="rd" r="4.8" cx="87.7" cy="575.3"/><circle class="rd" r="4.8" cx="87.7" cy="562"/>
<circle class="bl" r="4.8" cx="137.7" cy="451"/><circle class="bl" r="4.8" cx="137.7" cy="472.7"/><circle class="bl" r="4.8" cx="137.7" cy="472.7"/>
<circle class="rd" r="4.8" cx="137.7" cy="562"/><circle class="rd" r="4.8" cx="137.7" cy="568.7"/><circle class="rd" r="4.8" cx="137.7" cy="575.3"/>
<circle class="bl" r="4.8" cx="187.7" cy="438.3"/><circle class="bl" r="4.8" cx="187.7" cy="451"/><circle class="bl" r="4.8" cx="187.7" cy="479.3"/>
<circle class="rd" r="4.8" cx="187.7" cy="562"/><circle class="rd" r="4.8" cx="187.7" cy="568.7"/><circle class="rd" r="4.8" cx="187.7" cy="575.3"/>
<circle class="bl" r="4.8" cx="250.7" cy="465.7"/><circle class="bl" r="4.8" cx="250.7" cy="465.7"/><circle class="bl" r="4.8" cx="250.7" cy="493.3"/>
<circle class="rd" r="4.8" cx="250.7" cy="548"/><circle class="rd" r="4.8" cx="250.7" cy="553.3"/><circle class="rd" r="4.8" cx="250.7" cy="569"/>
<circle class="bl" r="4.8" cx="300" cy="444"/><circle class="bl" r="4.8" cx="300" cy="465.7"/><circle class="bl" r="4.8" cx="300" cy="479.3"/>
<circle class="rd" r="4.8" cx="300" cy="561"/><circle class="rd" r="4.8" cx="300" cy="561"/><circle class="rd" r="4.8" cx="300" cy="575.7"/>
<circle class="bl" r="4.8" cx="349.3" cy="451.3"/><circle class="bl" r="4.8" cx="349.3" cy="451.3"/><circle class="bl" r="4.8" cx="349.3" cy="465.7"/>
<circle class="rd" r="4.8" cx="349.3" cy="548"/><circle class="rd" r="4.8" cx="349.3" cy="553.3"/><circle class="rd" r="4.8" cx="349.3" cy="562"/>
<circle class="bl" r="4.8" cx="87.7" cy="653.3"/>
<circle class="rd" r="4.8" cx="87.7" cy="710.7"/><circle class="rd" r="4.8" cx="87.7" cy="718.3"/>
<circle class="rd" r="4.8" cx="137.7" cy="641"/><circle class="rd" r="4.8" cx="137.7" cy="646.7"/>
<circle class="bl" r="4.8" cx="137.7" cy="599"/><circle class="bl" r="4.8" cx="137.7" cy="653.3"/><circle class="bl" r="4.8" cx="137.7" cy="646.7"/><circle class="bl" r="4.8" cx="137.7" cy="646.7"/>
<circle class="bl" r="4.8" cx="187.7" cy="640.7"/><circle class="bl" r="4.8" cx="187.7" cy="647.3"/><circle class="bl" r="4.8" cx="187.7" cy="659"/>
<circle class="rd" r="4.8" cx="187.7" cy="717.7"/><circle class="rd" r="4.8" cx="187.7" cy="717.7"/><circle class="rd" r="4.8" cx="187.7" cy="730.7"/>
<circle class="bl" r="4.8" cx="250.7" cy="623.3"/><circle class="bl" r="4.8" cx="250.7" cy="634.3"/><circle class="bl" r="4.8" cx="250.7" cy="671"/>
<circle class="rd" r="4.8" cx="250.7" cy="706.7"/><circle class="rd" r="4.8" cx="250.7" cy="718.7"/><circle class="rd" r="4.8" cx="250.7" cy="730"/>
<circle class="rd" r="4.8" cx="300" cy="647.3"/><circle class="rd" r="4.8" cx="300" cy="640.7"/>
<circle class="bl" r="4.8" cx="300" cy="593.3"/><circle class="bl" r="4.8" cx="300" cy="623.3"/><circle class="bl" r="4.8" cx="300" cy="640.7"/><circle class="bl" r="4.8" cx="300" cy="640.7"/>
<circle class="bl" r="4.8" cx="349.3" cy="623"/><circle class="bl" r="4.8" cx="349.3" cy="629.3"/><circle class="bl" r="4.8" cx="349.3" cy="629.3"/><circle class="bl" r="4.8" cx="349.3" cy="654"/>
<circle class="rd" r="4.8" cx="349.3" cy="712.7"/><circle class="rd" r="4.8" cx="349.3" cy="718.3"/><circle class="rd" r="4.8" cx="349.3" cy="730"/>
<circle r="5.3" cx="87.7" cy="479.3" fill="#0000ff" stroke="#000" stroke-width="2"/>
<circle r="5.3" cx="87.7" cy="562" fill="#ff0000" stroke="#000" stroke-width="2"/>
<circle r="5.3" cx="87.7" cy="665.3" fill="#0000ff" stroke="#000" stroke-width="2"/>
<circle r="5.3" cx="87.7" cy="725" fill="#ff0000" stroke="#000" stroke-width="2"/>
</g>

<text class="serif" x="136.7" y="432" font-size="14.5" text-anchor="middle" textLength="116.7" lengthAdjust="spacingAndGlyphs">person/group: 1</text>
<text class="serif" x="299.8" y="432" font-size="14.5" text-anchor="middle" textLength="118.3" lengthAdjust="spacingAndGlyphs">person/group: 2</text>
<text class="serif" font-size="14" transform="translate(377,507.5) rotate(90)" text-anchor="middle" textLength="95" lengthAdjust="spacingAndGlyphs">task_id: easy</text>
<text class="serif" font-size="14" transform="translate(377,661.7) rotate(90)" text-anchor="middle" textLength="140" lengthAdjust="spacingAndGlyphs">task_id: impossible</text>

<path class="ax" d="M52,431H58.3V584.3H52M52,586.7H58.3V738.3H52"/>
<path class="ax" d="M52,442.3H58.3M52,489.3H58.3M52,536.3H58.3M52,583.3H58.3M52,620.7H58.3M52,661.5H58.3M52,702.3H58.3"/>
<path class="ax" d="M58.3,745V739H212.3V745M220.7,745V739H379V745"/>
<g class="sans" font-size="14" text-anchor="end">
<text x="50" y="447.3">0.6</text><text x="50" y="494.3">0.4</text><text x="50" y="541.3">0.2</text><text x="50" y="588.3">0.0</text>
<text x="50" y="625.7">0.6</text><text x="50" y="666.5">0.4</text><text x="50" y="707.3">0.2</text>
</g>
<g class="sans" font-size="14" text-anchor="middle">
<text x="87.7" y="757">all</text><text x="137.7" y="757">other</text><text x="187.7" y="757">same</text>
<text x="250.7" y="757">all</text><text x="300" y="757">other</text><text x="349.3" y="757">same</text>
</g>
<text class="serif" font-size="16.5" x="218.8" y="785" text-anchor="middle" textLength="207.7" lengthAdjust="spacingAndGlyphs">People/groups in train set</text>
<text class="serif" font-size="16.5" transform="translate(13,585) rotate(-90)" text-anchor="middle" textLength="254" lengthAdjust="spacingAndGlyphs">Mean squared error on test set</text>

<!-- algorithm legend -->
<text class="serif" x="408.3" y="593" font-size="15.5" font-weight="bold" textLength="81" lengthAdjust="spacingAndGlyphs">algorithm</text>
<circle cx="417.3" cy="610" r="3.3" fill="#0000ff" stroke="#333" stroke-width="0.6"/>
<text class="serif" x="432.3" y="616" font-size="11.5" textLength="65" lengthAdjust="spacingAndGlyphs">featureless</text>
<circle cx="417.3" cy="632.3" r="3.3" fill="#ff0000" stroke="#333" stroke-width="0.6"/>
<text class="serif" x="432.3" y="637" font-size="11.5">rpart</text>
</svg>
</body></html>
